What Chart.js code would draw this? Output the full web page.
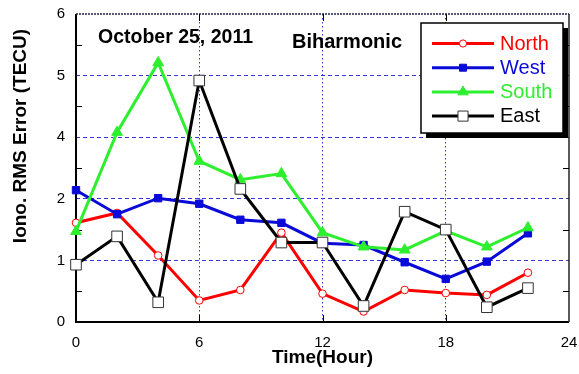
<!DOCTYPE html>
<html>
<head>
<meta charset="utf-8">
<script src="https://cdn.jsdelivr.net/npm/chart.js@4.4.1/dist/chart.umd.min.js"></script>
<style>
  body { margin: 0; background: #fff; }
  canvas { display: block; }
</style>
</head>
<body>
<canvas id="rms_error" width="579" height="374"></canvas>
<script>
// hours of the day (UT)
const hours = [0, 2, 4, 6, 8, 10, 12, 14, 16, 18, 20, 22];

// RMS error per direction, in axis steps (tick i carries yTickLabels[i])
const north = [1.61, 1.77, 1.08, 0.35, 0.52, 1.45, 0.46, 0.17, 0.52, 0.47, 0.44, 0.80];
const west  = [2.14, 1.75, 2.01, 1.92, 1.66, 1.61, 1.28, 1.25, 0.97, 0.70, 0.98, 1.44];
const south = [1.47, 3.08, 4.21, 2.61, 2.31, 2.41, 1.45, 1.22, 1.17, 1.48, 1.22, 1.53];
const east  = [0.93, 1.39, 0.32, 3.92, 2.16, 1.29, 1.29, 0.26, 1.79, 1.50, 0.24, 0.55];

const yTickLabels = ['0', '1', '2', '4', '5', '6'];
const xTicks = [0, 6, 12, 18, 24];

const FONT = 'Arial, "Liberation Sans", Helvetica, sans-serif';
const gridBlue = '#3535d8';

const series = [
  { label: 'North', data: north, color: '#ff0000', style: 'circle', radius: 3.8, fill: '#ffffff', border: '#ff0000', order: 4 },
  { label: 'West',  data: west,  color: '#0a0ad8', style: 'rect', radius: 5.2, fill: '#0a0ad8', border: '#0a0ad8', order: 3 },
  { label: 'South', data: south, color: '#2def2d', style: 'triangle', radius: 6.2, fill: '#2def2d', border: '#2def2d', order: 2 },
  { label: 'East',  data: east,  color: '#000000', style: 'rect', radius: 7.5, fill: '#ffffff', border: '#333333', order: 1 }
];

const datasets = series.map(s => ({
  label: s.label,
  data: hours.map((h, i) => ({ x: h, y: s.data[i] })),
  borderColor: s.color,
  borderWidth: 3,
  pointStyle: s.style,
  pointRadius: s.radius,
  pointBackgroundColor: s.fill,
  pointBorderColor: s.border,
  pointBorderWidth: 1,
  tension: 0,
  clip: false,
  order: s.order
}));

// box, inward ticks, annotations, legend
const framePlugin = {
  id: 'frame',
  beforeDatasetsDraw(chart) {
    const { ctx, chartArea: a, scales } = chart;
    ctx.save();
    ctx.strokeStyle = '#000';
    ctx.lineWidth = 2;
    ctx.beginPath();
    ctx.moveTo(a.left, a.top);
    ctx.lineTo(a.left, a.bottom);
    ctx.lineTo(a.right, a.bottom);
    ctx.stroke();
    ctx.lineWidth = 1.5;
    ctx.strokeStyle = '#222';
    ctx.beginPath();
    ctx.moveTo(a.right, a.bottom);
    ctx.lineTo(a.right, a.top);
    ctx.stroke();
    ctx.strokeStyle = '#22224a';
    ctx.setLineDash([2, 1]);
    ctx.beginPath();
    ctx.moveTo(a.left, a.top);
    ctx.lineTo(a.right, a.top);
    ctx.stroke();
    ctx.setLineDash([]);

    // minor ticks on left/right, half steps
    ctx.lineWidth = 1;
    ctx.strokeStyle = '#000';
    ctx.beginPath();
    for (let v = 0.5; v < 5; v += 1) {
      const y = Math.round(scales.y.getPixelForValue(v)) + 0.5;
      ctx.moveTo(a.left, y); ctx.lineTo(a.left + 6, y);
      ctx.moveTo(a.right, y); ctx.lineTo(a.right - 6, y);
    }
    for (const t of xTicks.slice(1, -1)) {
      const x = Math.round(scales.x.getPixelForValue(t)) + 0.5;
      ctx.moveTo(x, a.top); ctx.lineTo(x, a.top + 7);
      ctx.moveTo(x, a.bottom); ctx.lineTo(x, a.bottom - 7);
    }
    ctx.stroke();
    ctx.restore();
  },
  afterDraw(chart) {
    const { ctx } = chart;
    ctx.save();
    ctx.fillStyle = '#000';
    ctx.textAlign = 'left';
    ctx.textBaseline = 'alphabetic';
    ctx.font = 'bold 19.5px ' + FONT;
    ctx.fillText('October 25, 2011', 98, 43);
    ctx.font = 'bold 20px ' + FONT;
    ctx.fillText('Biharmonic', 292, 48);

    // y axis title
    ctx.save();
    ctx.translate(21, 136);
    ctx.rotate(-Math.PI / 2);
    ctx.textAlign = 'center';
    ctx.textBaseline = 'middle';
    ctx.font = 'bold 19px ' + FONT;
    ctx.fillText('Iono. RMS Error (TECU)', 0, 0);
    ctx.restore();

    // legend with drop shadow
    const bx = 421, by = 23, bw = 142, bh = 110;
    ctx.fillStyle = '#000';
    ctx.fillRect(bx + 5, by + 5, bw, bh);
    ctx.fillStyle = '#fff';
    ctx.fillRect(bx, by, bw, bh);
    ctx.lineWidth = 1.5;
    ctx.strokeStyle = '#000';
    ctx.strokeRect(bx, by, bw, bh);

    series.forEach((s, i) => {
      const y = 43.5 + i * 24.2;
      ctx.strokeStyle = s.color;
      ctx.lineWidth = 3;
      ctx.beginPath();
      ctx.moveTo(432, y);
      ctx.lineTo(494, y);
      ctx.stroke();
      ctx.fillStyle = s.fill;
      ctx.strokeStyle = s.border;
      ctx.lineWidth = 1;
      Chart.helpers.drawPoint(ctx, { pointStyle: s.style, radius: s.radius * 0.95, rotation: 0, borderWidth: 1 }, 463, y);
      ctx.fillStyle = s.color;
      ctx.font = '20px ' + FONT;
      ctx.textAlign = 'left';
      ctx.textBaseline = 'middle';
      ctx.fillText(s.label, 500, y + 0.5);
    });
    ctx.restore();
  }
};

new Chart(document.getElementById('rms_error'), {
  type: 'line',
  data: { datasets: datasets },
  plugins: [framePlugin],
  options: {
    responsive: false,
    animation: false,
    devicePixelRatio: 1,
    layout: { padding: { left: 0, top: 14, right: 10, bottom: 0 } },
    plugins: {
      legend: { display: false },
      tooltip: { enabled: false }
    },
    scales: {
      x: {
        type: 'linear',
        min: 0,
        max: 24,
        afterFit: scale => {
          scale.height = 52;
          scale.paddingLeft = 0;
          scale.paddingRight = 0;
        },
        afterBuildTicks: scale => { scale.ticks = xTicks.map(v => ({ value: v })); },
        ticks: {
          color: '#000',
          padding: 12,
          maxRotation: 0,
          font: { family: FONT, size: 15 }
        },
        grid: {
          drawTicks: false,
          lineWidth: 1,
          color: c => (c.tick && c.tick.value > 0 && c.tick.value < 24) ? gridBlue : 'rgba(0,0,0,0)'
        },
        border: { display: false, dash: [1.5, 2.5] },
        title: {
          display: true,
          text: 'Time(Hour)',
          color: '#000',
          font: { family: FONT, size: 19, weight: 'bold' },
          padding: { top: 0, bottom: 5 }
        }
      },
      y: {
        type: 'linear',
        min: 0,
        max: 5,
        afterFit: scale => {
          scale.width = 76;
          scale.paddingTop = 0;
          scale.paddingBottom = 0;
        },
        ticks: {
          stepSize: 1,
          color: '#000',
          padding: 11,
          font: { family: FONT, size: 15 },
          callback: v => yTickLabels[v]
        },
        grid: {
          drawTicks: false,
          lineWidth: 1,
          color: c => (c.tick && c.tick.value > 0 && c.tick.value < 5) ? gridBlue : 'rgba(0,0,0,0)'
        },
        border: { display: false, dash: [4, 3] }
      }
    }
  }
});
</script>
</body>
</html>
